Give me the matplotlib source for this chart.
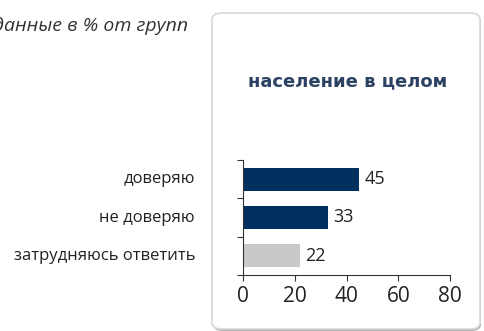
import matplotlib.pyplot as plt
from matplotlib.patches import FancyBboxPatch

plt.rcParams["font.family"] = ["Open Sans", "DejaVu Sans"]

categories = ["доверяю", "не доверяю", "затрудняюсь ответить"]
values = [45, 33, 22]
colors = ["#00305f", "#00305f", "#c8c9cb"]
xticks = [0, 20, 40, 60, 80]

W, H = 484, 331
fig = plt.figure(figsize=(W / 100, H / 100), dpi=100)

# rounded panel behind the chart
shadow = FancyBboxPatch((213 / W, 1 - 331 / H), 268 / W, 316 / H,
                        boxstyle="round,pad=0,rounding_size=0.02",
                        transform=fig.transFigure, facecolor="#b0b0b0",
                        edgecolor="none", zorder=0)
panel = FancyBboxPatch((212 / W, 1 - 329 / H), 268 / W, 316 / H,
                       boxstyle="round,pad=0,rounding_size=0.02",
                       transform=fig.transFigure, facecolor="white",
                       edgecolor="#d8d8d8", linewidth=1.2, zorder=1)
fig.patches.extend([shadow, panel])

ax = fig.add_axes([243 / W, 1 - 275 / H, (450 - 243) / W, (275 - 160) / H])
ax.set_facecolor("none")
ax.set_zorder(2)

y = list(range(len(categories)))
ax.barh(y, values, height=0.6, color=colors)
for yi, v in zip(y, values):
    ax.text(v + 2, yi, str(v), va="center", ha="left", fontsize=13, color="#222222")

ax.set_xlim(0, 80)
ax.set_ylim(len(categories) - 0.5, -0.5)
ax.set_xticks(xticks)
ax.set_xticklabels([str(t) for t in xticks], fontsize=15, color="#222222")
ax.set_yticks([-0.5, 0.5, 1.5, 2.5])
ax.set_yticklabels([])
ax.tick_params(axis="x", length=4, width=0.8, color="#333333", pad=4)
ax.tick_params(axis="y", length=4, width=0.8, color="#333333", direction="out")
for s in ["top", "right"]:
    ax.spines[s].set_visible(False)
for s in ["left", "bottom"]:
    ax.spines[s].set_color("#333333")
    ax.spines[s].set_linewidth(0.8)

# category labels to the left of the panel
for yi, c in zip(y, categories):
    ax.text(-48 / 207, yi, c, transform=ax.get_yaxis_transform(), ha="right",
            va="center", fontsize=12, color="#222222")

fig.text(348 / W, 1 - 81 / H, "население в целом", ha="center", va="center",
         fontsize=13, fontweight="bold", color="#2b4262", family=["DejaVu Sans"])
fig.text(188 / W, 1 - 26 / H, "данные в % от групп", ha="right", va="center",
         fontsize=14, style="italic", color="#333333")

fig.savefig("out.png", dpi=100)
